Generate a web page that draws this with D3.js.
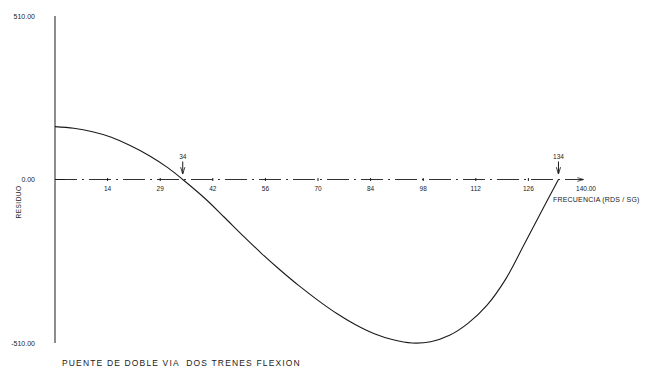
<!DOCTYPE html>
<html>
<head>
<meta charset="utf-8">
<script src="https://cdn.jsdelivr.net/npm/d3@7/dist/d3.min.js"></script>
<style>
  html, body { margin: 0; padding: 0; background: #fff; }
  svg { display: block; }
  text { font-family: "Liberation Sans", "DejaVu Sans", sans-serif; fill: #222; }
</style>
</head>
<body>
<svg id="chart" width="645" height="371"></svg>
<script>
// Residuo frente a frecuencia
const frequencies = [0, 5, 10, 15, 20, 25, 30, 34, 40, 45, 50, 55, 60, 65, 70, 75, 80, 85, 90, 95, 100, 105, 110, 115, 120, 125, 130, 134];
const residues    = [165, 160, 149, 132, 106, 75, 37, 0, -60, -117, -175, -231, -283, -332, -377, -418, -453, -481, -500, -510, -506, -486, -448, -392, -310, -200, -88, 0];

const xTicks      = [14, 28, 42, 56, 70, 84, 98, 112, 126, 140];
const xTickLabels = ["14", "29", "42", "56", "70", "84", "98", "112", "126", "140.00"];
const yTicks      = [510, 0, -510];
const yTickLabels = ["510.00", "0.00", "-510.00"];
const zeroCrossings = [34, 134];

const svg = d3.select("#chart");
const ink = "#1a1a1a";

const x = d3.scaleLinear().domain([0, 140]).range([55, 581]);
const y = d3.scaleLinear().domain([-510, 510]).range([343, 16]);

// arrow head for the frequency axis and crossing markers
const defs = svg.append("defs");
defs.append("marker")
  .attr("id", "arrow").attr("viewBox", "0 0 10 10")
  .attr("refX", 9).attr("refY", 5)
  .attr("markerWidth", 7).attr("markerHeight", 7)
  .attr("orient", "auto")
  .append("path").attr("d", "M0,2 L10,5 L0,8").attr("fill", "none").attr("stroke", ink).attr("stroke-width", 1.2);

// vertical axis
svg.append("line")
  .attr("x1", x(0)).attr("x2", x(0))
  .attr("y1", y(510)).attr("y2", y(-510))
  .attr("stroke", ink).attr("stroke-width", 1);

svg.selectAll("text.ylab").data(yTicks).join("text")
  .attr("class", "ylab")
  .attr("x", 35).attr("y", d => y(d) + 2.5)
  .attr("text-anchor", "end")
  .attr("font-size", 7)
  .text((d, i) => yTickLabels[i]);

svg.append("text")
  .attr("transform", `translate(21,${y(-70)}) rotate(-90)`)
  .attr("text-anchor", "middle")
  .attr("font-size", 6.5)
  .attr("letter-spacing", 0.5)
  .text("RESIDUO");

// horizontal (frequency) axis, drawn dash-dot
svg.append("line")
  .attr("x1", x(0)).attr("x2", x(140) + 2)
  .attr("y1", y(0)).attr("y2", y(0))
  .attr("stroke", ink).attr("stroke-width", 0.9)
  .attr("stroke-dasharray", "22,5,2,5")
  .attr("marker-end", "url(#arrow)");

svg.append("line")
  .attr("x1", x(0)).attr("x2", x(0) + 10)
  .attr("y1", y(0)).attr("y2", y(0))
  .attr("stroke", ink).attr("stroke-width", 1);

svg.selectAll("line.xtick").data(xTicks.slice(0, -1)).join("line")
  .attr("class", "xtick")
  .attr("x1", d => x(d)).attr("x2", d => x(d))
  .attr("y1", y(0) - 1.5).attr("y2", y(0) + 1.5)
  .attr("stroke", ink).attr("stroke-width", 1);

svg.selectAll("text.xlab").data(xTicks).join("text")
  .attr("class", "xlab")
  .attr("x", d => x(d) + (d === 140 ? 5 : 0))
  .attr("y", y(0) + 11)
  .attr("text-anchor", "middle")
  .attr("font-size", 6.5)
  .text((d, i) => xTickLabels[i]);

svg.append("text")
  .attr("x", 553).attr("y", y(0) + 22)
  .attr("font-size", 7)
  .attr("letter-spacing", 0.2)
  .text("FRECUENCIA (RDS / SG)");

// zero-crossing markers
const marks = svg.selectAll("g.cross").data(zeroCrossings).join("g").attr("class", "cross");
marks.append("line")
  .attr("x1", d => x(d)).attr("x2", d => x(d))
  .attr("y1", y(0) - 18).attr("y2", y(0) - 6)
  .attr("stroke", ink).attr("stroke-width", 1)
  .attr("marker-end", "url(#arrow)");
marks.append("text")
  .attr("x", d => x(d)).attr("y", y(0) - 21)
  .attr("text-anchor", "middle")
  .attr("font-size", 6.5)
  .text(d => d);

// residue curve
const line = d3.line()
  .x((d, i) => x(frequencies[i]))
  .y(d => y(d))
  .curve(d3.curveCatmullRom.alpha(0.5));

svg.append("path")
  .datum(residues)
  .attr("d", line)
  .attr("fill", "none")
  .attr("stroke", ink)
  .attr("stroke-width", 1.1);

// title
svg.append("text")
  .attr("x", 62).attr("y", 366)
  .attr("font-size", 8.5)
  .attr("letter-spacing", 1.15)
  .attr("xml:space", "preserve")
  .style("white-space", "pre")
  .text("PUENTE DE DOBLE VIA  DOS TRENES FLEXION");
</script>
</body>
</html>
